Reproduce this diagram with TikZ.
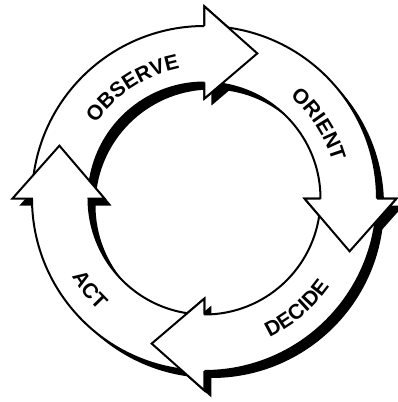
\documentclass[tikz,border=0pt]{standalone}
\usepackage{fontspec}
\setmainfont{Liberation Sans}
\usetikzlibrary{calc,decorations.text}

\begin{document}
\begin{tikzpicture}[x=1pt,y=1pt,
  arrowshadow/.style={fill=black,shift={(7,-7)}},
  arrowbody/.style={fill=white,draw=black,line width=2pt,line join=miter},
  headline/.style={draw=black,line width=2pt,line join=miter},
  looplabel/.style={decorate,decoration={text along path,text align=center,
    text={|\fontsize{21}{25}\selectfont\bfseries|#1}}}]
\useasboundingbox (-204.5,-203.5) rectangle (193.5,198.5);

% shadows
\fill[arrowshadow] (175:172.5) arc[start angle=175,end angle=90,radius=172.5] -- (90:192) -- (70:154.4) -- (90:100) -- (90:116) arc[start angle=90,end angle=175,radius=116] -- cycle;
\fill[arrowshadow] (85:172.5) arc[start angle=85,end angle=0,radius=172.5] -- (0:192) -- (-20:154.4) -- (0:100) -- (0:116) arc[start angle=0,end angle=85,radius=116] -- cycle;
\fill[arrowshadow] (-5:172.5) arc[start angle=-5,end angle=-90,radius=172.5] -- (-90:192) -- (-110:154.4) -- (-90:100) -- (-90:116) arc[start angle=-90,end angle=-5,radius=116] -- cycle;
\fill[arrowshadow] (-95:172.5) arc[start angle=-95,end angle=-180,radius=172.5] -- (-180:192) -- (-200:154.4) -- (-180:100) -- (-180:116) arc[start angle=-180,end angle=-95,radius=116] -- cycle;

% arrows
\path[arrowbody] (175:172.5) arc[start angle=175,end angle=90,radius=172.5] -- (90:192) -- (70:154.4) -- (90:100) -- (90:116) arc[start angle=90,end angle=175,radius=116] -- cycle;
\path[arrowbody] (85:172.5) arc[start angle=85,end angle=0,radius=172.5] -- (0:192) -- (-20:154.4) -- (0:100) -- (0:116) arc[start angle=0,end angle=85,radius=116] -- cycle;
\path[arrowbody] (-5:172.5) arc[start angle=-5,end angle=-90,radius=172.5] -- (-90:192) -- (-110:154.4) -- (-90:100) -- (-90:116) arc[start angle=-90,end angle=-5,radius=116] -- cycle;
\path[arrowbody] (-95:172.5) arc[start angle=-95,end angle=-180,radius=172.5] -- (-180:192) -- (-200:154.4) -- (-180:100) -- (-180:116) arc[start angle=-180,end angle=-95,radius=116] -- cycle;

% heads on top of the next shaft
\fill[white] (90:192) -- (70:154.4) -- (90:100) -- cycle;
\path[headline] (90:172.5) -- (90:192) -- (70:154.4) -- (90:100) -- (90:116);
\fill[white] (0:192) -- (-20:154.4) -- (0:100) -- cycle;
\path[headline] (0:172.5) -- (0:192) -- (-20:154.4) -- (0:100) -- (0:116);
\fill[white] (-90:192) -- (-110:154.4) -- (-90:100) -- cycle;
\path[headline] (-90:172.5) -- (-90:192) -- (-110:154.4) -- (-90:100) -- (-90:116);

% labels
\path[looplabel=OBSERVE] (163:132) arc[start angle=163,end angle=83,radius=132];
\path[looplabel=ORIENT] (73:133) arc[start angle=73,end angle=-7,radius=133];
\path[looplabel=DECIDE] (-90:153) arc[start angle=-90,end angle=-10,radius=153];
\path[looplabel=ACT] (-181.5:154) arc[start angle=-181.5,end angle=-101.5,radius=154];
\end{tikzpicture}
\end{document}
